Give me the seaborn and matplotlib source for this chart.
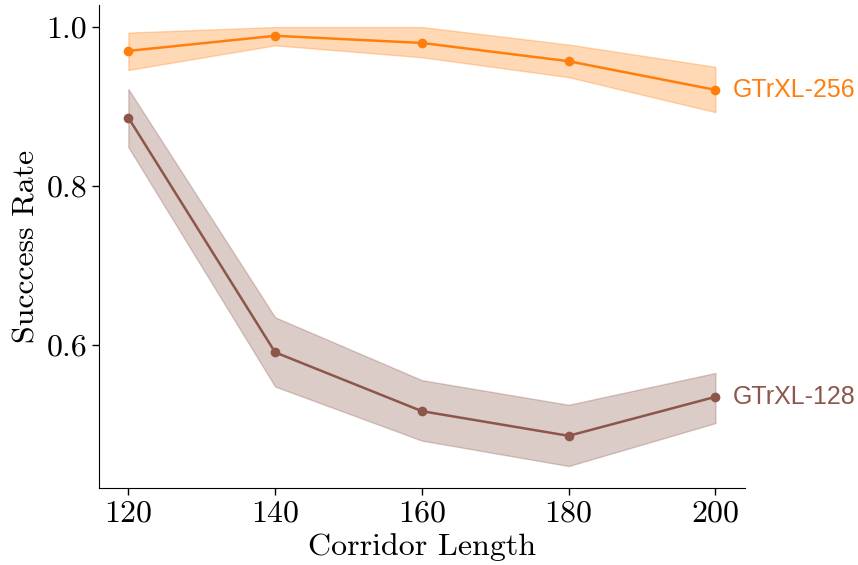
import matplotlib
matplotlib.use("Agg")
import matplotlib.pyplot as plt
import numpy as np
import pandas as pd
import seaborn as sns

# Corridor lengths evaluated
corridor_length = [120, 140, 160, 180, 200]

# GTrXL-256: mean success rate and band limits
gtrxl256_mean = [0.970, 0.989, 0.980, 0.957, 0.921]
gtrxl256_low = [0.946, 0.977, 0.962, 0.937, 0.893]
gtrxl256_high = [0.993, 1.000, 1.000, 0.978, 0.950]

# GTrXL-128: mean success rate and band limits
gtrxl128_mean = [0.886, 0.591, 0.517, 0.486, 0.535]
gtrxl128_low = [0.849, 0.548, 0.480, 0.448, 0.502]
gtrxl128_high = [0.922, 0.635, 0.556, 0.525, 0.565]

series_names = ["GTrXL-256", "GTrXL-128"]
colors = {"GTrXL-256": "#ff7f0e", "GTrXL-128": "#8c564b"}

sns.set_style("ticks", {"axes.edgecolor": "black", "text.color": "black",
                        "axes.labelcolor": "black", "xtick.color": "black",
                        "ytick.color": "black"})
plt.rcParams["font.family"] = "serif"
plt.rcParams["font.serif"] = ["cmr10"]
plt.rcParams["axes.formatter.use_mathtext"] = True
plt.rcParams["mathtext.fontset"] = "cm"

df = pd.DataFrame({
    "Corridor Length": corridor_length * 2,
    "Success": gtrxl256_mean + gtrxl128_mean,
    "Model": [series_names[0]] * 5 + [series_names[1]] * 5,
})
bands = {
    "GTrXL-256": (gtrxl256_low, gtrxl256_high),
    "GTrXL-128": (gtrxl128_low, gtrxl128_high),
}

fig = plt.figure(figsize=(8.58, 5.65), dpi=100)
ax = fig.add_axes([0.1154, 0.1363, 0.7526, 0.8547])

for name in series_names:
    lo, hi = bands[name]
    ax.fill_between(corridor_length, lo, hi, color=colors[name], alpha=0.3, lw=1)

sns.lineplot(data=df, x="Corridor Length", y="Success", hue="Model",
             palette=colors, marker="o", markersize=7, markeredgewidth=0,
             linewidth=1.8, legend=False, ax=ax)

for name, means in zip(series_names, [gtrxl256_mean, gtrxl128_mean]):
    ax.annotate(name, xy=(corridor_length[-1], means[-1]), xytext=(17, 0),
                textcoords="offset pixels",
                va="center", ha="left", color=colors[name],
                fontsize=18, family="Liberation Sans")

ax.set_xticks(corridor_length)
ax.set_yticks([0.6, 0.8, 1.0])
ax.set_yticklabels(["0.6", "0.8", "1.0"])
ax.tick_params(labelsize=23, length=5, width=1, colors="black")
ax.set_xlabel("Corridor Length", fontsize=23, color="black")
ax.set_ylabel("Succcess Rate", fontsize=23, color="black")
sns.despine(ax=ax)

fig.savefig("out.png", dpi=100)
